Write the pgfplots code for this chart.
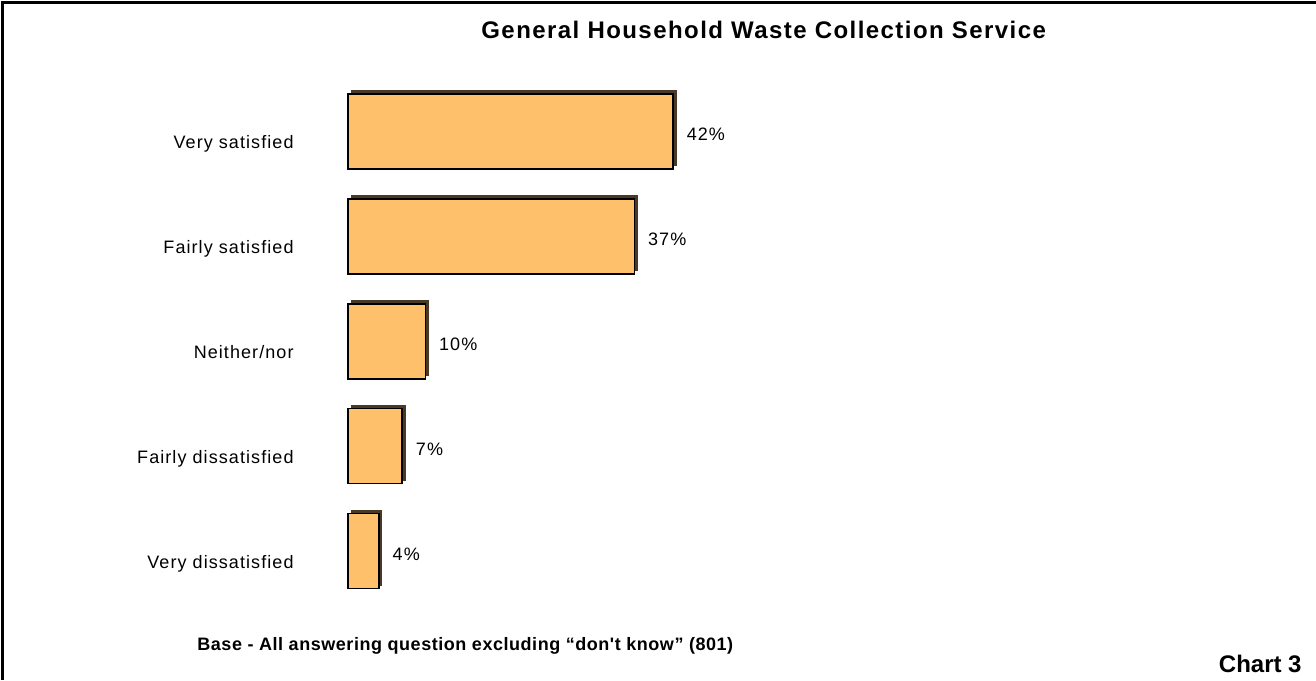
\documentclass[border=0pt]{standalone}
\usepackage{fontspec}
\setmainfont{Liberation Sans}
\newfontfamily\lblfont[LetterSpace=6]{Liberation Sans}
\newfontfamily\titlefont[LetterSpace=6]{Liberation Sans}
\newfontfamily\footfont[LetterSpace=3]{Liberation Sans}
\usepackage{pgfplots}
\pgfplotsset{compat=1.18}
\definecolor{barfill}{RGB}{255,192,107}
\definecolor{barshadow}{RGB}{72,58,36}
\begin{document}
\begin{tikzpicture}
\useasboundingbox (0,0) rectangle (658pt,-340pt);
\draw[line width=1.5pt] (1pt,-340pt) -- (1pt,-1pt) -- (658pt,-1pt);
\begin{axis}[
  at={(174pt,-39.5pt)}, anchor=north west,
  scale only axis, width=387pt, height=262.25pt,
  xmin=0, xmax=100, ymin=-0.5, ymax=4.5, y dir=reverse,
  axis line style={draw=none}, major tick length=0pt,
  xtick=\empty, ytick={0,1,2,3,4},
  yticklabels={Very satisfied, Fairly satisfied, Neither/nor, Fairly dissatisfied, Very dissatisfied},
  yticklabel style={font=\lblfont\fontsize{9}{10}\selectfont, anchor=base east, inner sep=0pt, xshift=-27pt, yshift=-8.5pt},
  /pgf/number format/assume math mode=true,
  clip=false,
]
\addplot[xbar, bar shift=0pt, bar width=37.5pt, fill=barshadow, draw=barshadow, line width=0.5pt, xshift=1.5pt, yshift=1.5pt]
  coordinates {(42,0) (37,1) (10,2) (7,3) (4,4)};
\addplot[xbar, bar shift=0pt, bar width=37.5pt, fill=barfill, draw=black, line width=0.75pt,
  point meta=x,
  nodes near coords={\pgfmathprintnumber[assume math mode=true]{\pgfplotspointmeta}\%},
  nodes near coords style={font=\lblfont\fontsize{9}{10}\selectfont, anchor=base west, inner sep=0pt, xshift=6.5pt, yshift=-4.5pt, text=black}]
  coordinates {(42,0) (37,1) (10,2) (7,3) (4,4)};
\end{axis}
\node[anchor=base west, inner sep=0pt, font=\titlefont\bfseries\fontsize{12}{14}\selectfont] at (240.5pt,-19pt) {General Household Waste Collection Service};
\node[anchor=base west, inner sep=0pt, font=\footfont\bfseries\fontsize{9}{10}\selectfont] at (98.5pt,-325pt) {Base - All answering question excluding “don't know” (801)};
\node[anchor=base east, inner sep=0pt, font=\bfseries\fontsize{12}{14}\selectfont] at (651pt,-336pt) {Chart 3};
\end{tikzpicture}
\end{document}
